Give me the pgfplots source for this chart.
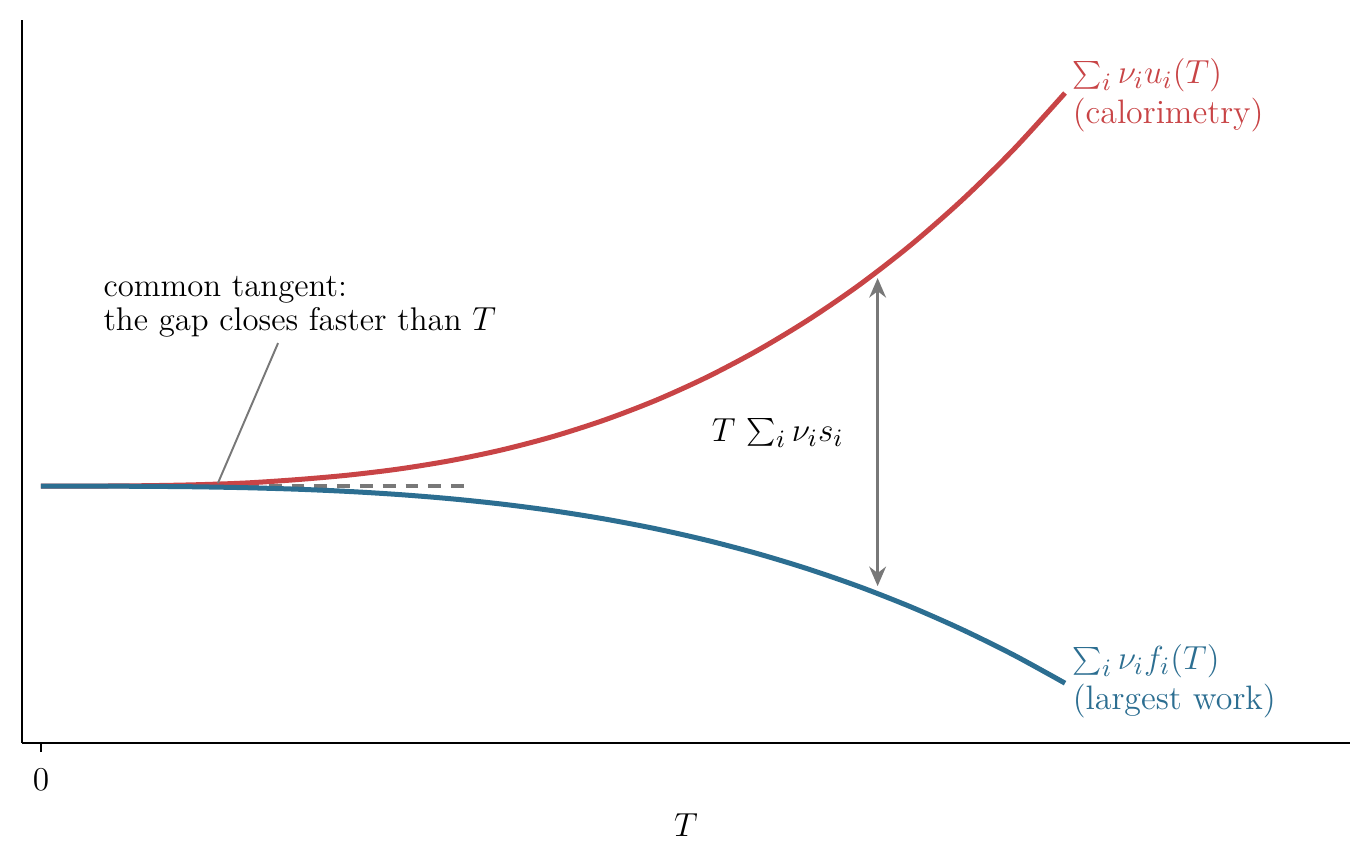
\documentclass[border=0pt]{standalone}
\usepackage{pgfplots}
\pgfplotsset{compat=1.18}
\usetikzlibrary{arrows.meta}
\definecolor{cred}{RGB}{200,68,70}
\definecolor{cblue}{RGB}{44,110,145}
\definecolor{cgray}{RGB}{120,120,120}
\pgfplotstableread{
T u f
0 0 0
0.05 0.0005 -0.0002
0.1 0.0039 -0.0020
0.15 0.0133 -0.0066
0.2 0.0314 -0.0158
0.25 0.0650 -0.0308
0.3 0.1100 -0.0532
0.35 0.1720 -0.0845
0.4 0.2550 -0.1261
0.45 0.3620 -0.1795
0.5 0.4960 -0.2463
0.55 0.6600 -0.3278
0.6 0.8560 -0.4255
0.65 1.0880 -0.5410
0.7 1.3580 -0.6757
0.75 1.6670 -0.8311
0.8 2.0180 -1.0086
0.85 2.4160 -1.2098
0.9 2.8650 -1.4361
0.95 3.3680 -1.6890
1.0 3.93 -1.97
}\data
\begin{document}
\begin{tikzpicture}
\begin{axis}[name=ax,
  scale only axis, width=478pt, height=260.3pt,
  xmin=-0.01855, xmax=1.2783, ymin=-2.57, ymax=4.66,
  axis x line=bottom, axis y line=left,
  axis line style={-, line width=0.6pt},
  xtick={0}, ytick=\empty,
  tick align=outside, major tick length=3.2pt,
  tick style={line width=0.6pt, black},
  xticklabel style={font=\fontsize{12.4}{14}\selectfont, yshift=-2.6pt},
  xlabel={$T$},
  xlabel style={font=\fontsize{13.2}{15}\selectfont, at={(ticklabel cs:0.5)}, yshift=-1.3pt},
  clip=false,
]
\addplot[cgray, line width=1.3pt, dash pattern=on 4.6pt off 3.6pt] coordinates {(0,0) (0.419,0)};
\addplot[cred, line width=1.8pt, smooth] table[x=T,y=u]{\data};
\addplot[cblue, line width=1.8pt, smooth] table[x=T,y=f]{\data};
\draw[cgray, line width=0.7pt] (axis cs:0.2315,1.43) -- (axis cs:0.1728,0.03);
\node[anchor=north west, align=left, inner sep=0pt, font=\fontsize{11.8}{12.2}\selectfont] at (axis cs:0.0605,2.10) {common tangent:\\the gap closes faster than $T$};
\draw[cgray, line width=1.1pt, {Stealth[length=7pt,width=6pt]}-{Stealth[length=7pt,width=6pt]}] (axis cs:0.817,2.08) -- (axis cs:0.817,-1.00);
\node[font=\fontsize{12.6}{13}\selectfont] at (axis cs:0.7195,0.53) {$T\,\sum_i \nu_i s_i$};
\node[cred, anchor=west, align=left, inner sep=0pt, font=\fontsize{12.2}{14.4}\selectfont] at (axis cs:1.007,3.91) {$\sum_i \nu_i u_i(T)$\\(calorimetry)};
\node[cblue, anchor=west, align=left, inner sep=0pt, font=\fontsize{12.2}{14.4}\selectfont] at (axis cs:1.007,-1.95) {$\sum_i \nu_i f_i(T)$\\(largest work)};
\end{axis}
\pgfresetboundingbox
\path[use as bounding box] ([xshift=-7.92pt,yshift=-43.56pt]ax.south west) rectangle ([xshift=7.92pt,yshift=7.2pt]ax.north east);
\end{tikzpicture}
\end{document}
